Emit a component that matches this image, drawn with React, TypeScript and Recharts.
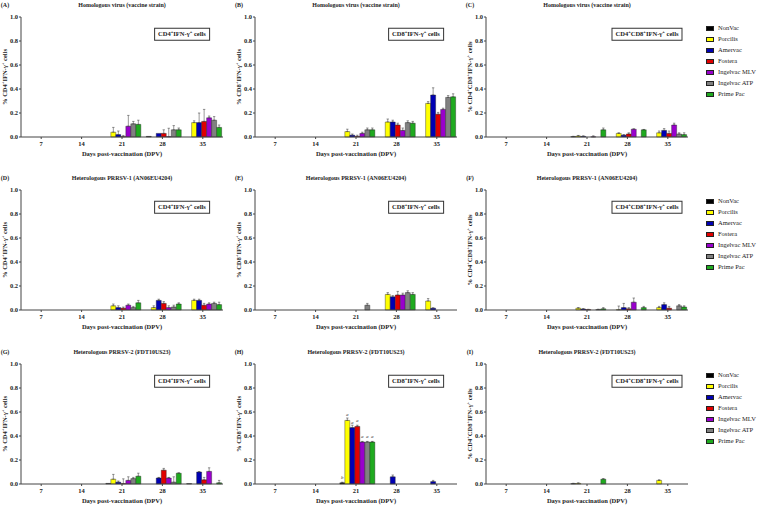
import React from "react";
import { Bar, BarChart, ErrorBar, LabelList, XAxis, YAxis } from "recharts";

// days post-vaccination (x categories)
const DPV = ["7", "14", "21", "28", "35"];
const VACCINES = ["NonVac", "Porcilis", "Amervac", "Fostera", "Ingelvac MLV", "Ingelvac ATP", "Prime Pac"];
const Y_TICKS = [0, 0.2, 0.4, 0.6, 0.8, 1.0];

const ROW_TITLES = [
  "Homologous virus (vaccine strain)",
  "Heterologous PRRSV-1 (AN06EU4204)",
  "Heterologous PRRSV-2 (FDT10US23)"
];
const PANEL_LETTERS = ["A", "B", "C", "D", "E", "F", "G", "H", "I"];
// cell subsets per column
const CELL_MARKERS = [["CD4"], ["CD8"], ["CD4", "CD8"]];

// rows = vaccines (same order as VACCINES), columns = DPV
const A_MEAN = [
  [0, 0, 0, 0.005, 0],
  [0, 0, 0.04, 0, 0.12],
  [0, 0, 0.02, 0.03, 0.12],
  [0, 0, 0.003, 0.03, 0.13],
  [0, 0, 0.09, 0.003, 0.16],
  [0, 0, 0.11, 0.06, 0.14],
  [0, 0, 0.105, 0.06, 0.08]
];
const A_ERR = [
  [0, 0, 0, 0, 0],
  [0, 0, 0.04, 0, 0.015],
  [0, 0, 0.03, 0, 0.08],
  [0, 0, 0.01, 0.03, 0.1],
  [0, 0, 0.09, 0.07, 0.015],
  [0, 0, 0.02, 0.035, 0.03],
  [0, 0, 0.035, 0.015, 0.02]
];

const B_MEAN = [
  [0, 0, 0, 0, 0],
  [0, 0, 0.045, 0.125, 0.28],
  [0, 0, 0.015, 0.125, 0.35],
  [0, 0, 0.005, 0.1, 0.19],
  [0, 0, 0.03, 0.055, 0.23],
  [0, 0, 0.06, 0.12, 0.33],
  [0, 0, 0.06, 0.115, 0.335]
];
const B_ERR = [
  [0, 0, 0, 0, 0],
  [0, 0, 0.02, 0.025, 0.015],
  [0, 0, 0.01, 0.015, 0.06],
  [0, 0, 0.01, 0.015, 0.015],
  [0, 0, 0.01, 0.02, 0.01],
  [0, 0, 0.015, 0.015, 0.015],
  [0, 0, 0.015, 0.015, 0.025]
];

const C_MEAN = [
  [0, 0, 0.003, 0, 0],
  [0, 0, 0.008, 0.03, 0.035],
  [0, 0, 0.005, 0.015, 0.055],
  [0, 0, 0, 0.025, 0.03],
  [0, 0, 0.002, 0.065, 0.1],
  [0, 0, 0, 0, 0.025],
  [0, 0, 0.06, 0.06, 0.02]
];
const C_ERR = [
  [0, 0, 0.003, 0, 0],
  [0, 0, 0.005, 0.005, 0.015],
  [0, 0, 0.005, 0.005, 0.015],
  [0, 0, 0, 0.01, 0.02],
  [0, 0, 0.008, 0.003, 0.015],
  [0, 0, 0, 0, 0.01],
  [0, 0, 0.015, 0.003, 0.015]
];

const D_MEAN = [
  [0, 0, 0, 0, 0],
  [0, 0, 0.035, 0.02, 0.08],
  [0, 0, 0.02, 0.08, 0.08],
  [0, 0, 0.015, 0.055, 0.04],
  [0, 0, 0.04, 0.02, 0.05],
  [0, 0, 0.02, 0.025, 0.055],
  [0, 0, 0.06, 0.05, 0.045]
];
const D_ERR = [
  [0, 0, 0, 0, 0],
  [0, 0, 0.015, 0.015, 0.01],
  [0, 0, 0.015, 0.01, 0.01],
  [0, 0, 0.01, 0.015, 0.015],
  [0, 0, 0.01, 0.015, 0.01],
  [0, 0, 0.01, 0.015, 0.01],
  [0, 0, 0.02, 0.01, 0.02]
];

const E_MEAN = [
  [0, 0, 0, 0, 0],
  [0, 0, 0, 0.13, 0.075],
  [0, 0, 0, 0.11, 0.015],
  [0, 0, 0, 0.125, 0],
  [0, 0, 0, 0.125, 0],
  [0, 0, 0.04, 0.145, 0],
  [0, 0, 0, 0.13, 0]
];
const E_ERR = [
  [0, 0, 0, 0, 0],
  [0, 0, 0, 0.015, 0.02],
  [0, 0, 0, 0.01, 0.003],
  [0, 0, 0, 0.03, 0],
  [0, 0, 0, 0.015, 0],
  [0, 0, 0.015, 0.015, 0],
  [0, 0, 0, 0.015, 0]
];

const F_MEAN = [
  [0, 0, 0, 0, 0],
  [0, 0, 0.015, 0.003, 0.02],
  [0, 0, 0.008, 0.02, 0.045],
  [0, 0, 0.003, 0.01, 0.015],
  [0, 0, 0, 0.065, 0],
  [0, 0, 0.004, 0, 0.035],
  [0, 0, 0.01, 0.02, 0.025]
];
const F_ERR = [
  [0, 0, 0, 0, 0],
  [0, 0, 0.005, 0.03, 0.01],
  [0, 0, 0.003, 0.035, 0.015],
  [0, 0, 0.003, 0.01, 0.015],
  [0, 0, 0, 0.035, 0],
  [0, 0, 0.003, 0, 0.01],
  [0, 0, 0.01, 0.01, 0.01]
];

const G_MEAN = [
  [0, 0, 0.005, 0, 0.003],
  [0, 0, 0.04, 0, 0],
  [0, 0, 0.015, 0.05, 0.1],
  [0, 0, 0.003, 0.115, 0.035],
  [0, 0, 0.03, 0.05, 0.105],
  [0, 0, 0.045, 0.015, 0],
  [0, 0, 0.065, 0.09, 0.01]
];
const G_ERR = [
  [0, 0, 0, 0, 0],
  [0, 0, 0.04, 0, 0],
  [0, 0, 0.01, 0.005, 0.003],
  [0, 0, 0.04, 0.015, 0.02],
  [0, 0, 0.03, 0.005, 0.03],
  [0, 0, 0.01, 0.045, 0],
  [0, 0, 0.025, 0.003, 0.02]
];

const H_MEAN = [
  [0, 0, 0.01, 0, 0],
  [0, 0, 0.53, 0, 0],
  [0, 0, 0.47, 0.06, 0.02],
  [0, 0, 0.48, 0, 0],
  [0, 0, 0.35, 0, 0],
  [0, 0, 0.35, 0, 0],
  [0, 0, 0.35, 0, 0]
];
const H_ERR = [
  [0, 0, 0.005, 0, 0],
  [0, 0, 0.02, 0, 0],
  [0, 0, 0.02, 0.015, 0.01],
  [0, 0, 0.01, 0, 0],
  [0, 0, 0.005, 0, 0],
  [0, 0, 0.005, 0, 0],
  [0, 0, 0.005, 0, 0]
];
// significance letters (panel H only)
const H_LETTERS = [
  ["", "", "b", "", ""],
  ["", "", "a", "", ""],
  ["", "", "a", "", ""],
  ["", "", "a", "", ""],
  ["", "", "a", "", ""],
  ["", "", "a", "", ""],
  ["", "", "a", "", ""]
];

const I_MEAN = [
  [0, 0, 0.003, 0, 0],
  [0, 0, 0.005, 0, 0.03],
  [0, 0, 0, 0, 0],
  [0, 0, 0, 0, 0],
  [0, 0, 0, 0, 0],
  [0, 0, 0, 0, 0],
  [0, 0, 0.04, 0, 0]
];
const I_ERR = [
  [0, 0, 0.003, 0, 0],
  [0, 0, 0.005, 0, 0.005],
  [0, 0, 0, 0, 0],
  [0, 0, 0, 0, 0],
  [0, 0, 0, 0, 0],
  [0, 0, 0, 0, 0],
  [0, 0, 0.005, 0, 0]
];

const PANELS = [
  { mean: A_MEAN, err: A_ERR },
  { mean: B_MEAN, err: B_ERR },
  { mean: C_MEAN, err: C_ERR },
  { mean: D_MEAN, err: D_ERR },
  { mean: E_MEAN, err: E_ERR },
  { mean: F_MEAN, err: F_ERR },
  { mean: G_MEAN, err: G_ERR },
  { mean: H_MEAN, err: H_ERR, letters: H_LETTERS },
  { mean: I_MEAN, err: I_ERR }
];

const COLORS = ["#000000", "#ffff00", "#0000b4", "#e00000", "#9900cc", "#808080", "#1faa1f"];
const FONT = "'Liberation Serif', 'DejaVu Serif', serif";
const INK = "#222";

const ROW_TOP = [0, 173, 347];
const AXIS_X = [21, 255, 486];
const PLOT_W = 202;

function buildRows(mean: number[][], err: number[][], letters?: string[][]) {
  return DPV.map((d, i) => {
    const row: Record<string, any> = { dpv: d };
    VACCINES.forEach((_, j) => {
      row[`v${j}`] = mean[j][i];
      row[`e${j}`] = err[j][i] ? [0, err[j][i]] : null;
      if (letters && letters[j][i]) row[`l${j}`] = letters[j][i];
    });
    return row;
  });
}

function CellName({ markers }: { markers: string[] }) {
  const sup = { fontSize: "0.7em", lineHeight: 0, verticalAlign: "super" } as const;
  return (
    <>
      {markers.map(m => (
        <span key={m}>
          {m}
          <span style={sup}>+</span>
        </span>
      ))}
      IFN-γ<span style={sup}>+</span> cells
    </>
  );
}

function Txt({ x, y, size = 6.5, bold = true, rotate = false, children }: any) {
  return (
    <div
      style={{
        position: "absolute",
        left: x,
        top: y,
        transform: `translate(-50%, -50%)${rotate ? " rotate(-90deg)" : ""}`,
        whiteSpace: "nowrap",
        fontFamily: FONT,
        fontSize: size,
        fontWeight: bold ? "bold" : "normal",
        color: INK,
        lineHeight: 1
      }}
    >
      {children}
    </div>
  );
}

function Panel({ idx }: { idx: number }) {
  const row = Math.floor(idx / 3);
  const col = idx % 3;
  const top = ROW_TOP[row];
  const ax = AXIS_X[col];
  const { mean, err, letters } = PANELS[idx] as any;
  const data = buildRows(mean, err, letters);
  const tickStyle = { fontSize: 6.5, fontFamily: FONT, fontWeight: "bold", fill: INK };

  return (
    <>
      <Txt x={ax - 16} y={top + 5} size={6}>({PANEL_LETTERS[idx]})</Txt>
      <Txt x={ax + PLOT_W / 2} y={top + 5} size={6}>{ROW_TITLES[row]}</Txt>
      <Txt x={ax - 16} y={top + 77} rotate>
        % <CellName markers={CELL_MARKERS[col]} />
      </Txt>
      <div
        style={{
          position: "absolute",
          left: ax + 161,
          top: top + 34,
          transform: "translate(-50%, -50%)",
          border: "1px solid #333",
          padding: "2px 3px",
          background: "#fff",
          whiteSpace: "nowrap",
          fontFamily: FONT,
          fontSize: 6.5,
          fontWeight: "bold",
          color: INK,
          lineHeight: 1
        }}
      >
        <CellName markers={CELL_MARKERS[col]} />
      </div>
      <div style={{ position: "absolute", left: ax - 20, top: top + 12 }}>
        <BarChart
          width={20 + PLOT_W + 4}
          height={141}
          data={data}
          margin={{ top: 5, right: 4, left: 0, bottom: 0 }}
          barCategoryGap="10%"
          barGap={0}
        >
          <XAxis
            dataKey="dpv"
            height={16}
            interval={0}
            tickSize={2}
            tickMargin={2}
            tick={tickStyle}
            axisLine={{ stroke: "#444" }}
            tickLine={{ stroke: "#444" }}
          />
          <YAxis
            width={20}
            domain={[0, 1]}
            ticks={Y_TICKS}
            tickFormatter={(v: number) => v.toFixed(1)}
            tickSize={2}
            tickMargin={1}
            tick={tickStyle}
            axisLine={{ stroke: "#444" }}
            tickLine={{ stroke: "#444" }}
          />
          {VACCINES.map((v, j) => (
            <Bar
              key={v}
              dataKey={`v${j}`}
              name={v}
              fill={COLORS[j]}
              stroke="#222"
              strokeWidth={0.4}
              isAnimationActive={false}
            >
              <ErrorBar dataKey={`e${j}`} width={1.2} stroke="#333" strokeWidth={0.5} direction="y" />
              {letters && (
                <LabelList
                  dataKey={`l${j}`}
                  position="top"
                  offset={4}
                  style={{ fontSize: 5, fontStyle: "italic", fontFamily: FONT, fill: "#333" }}
                />
              )}
            </Bar>
          ))}
        </BarChart>
      </div>
      <Txt x={ax + PLOT_W / 2} y={top + 154}>Days post-vaccination (DPV)</Txt>
    </>
  );
}

function LegendBlock({ top }: { top: number }) {
  return (
    <>
      {VACCINES.map((v, i) => (
        <div key={v}>
          <div
            style={{
              position: "absolute",
              left: 706,
              top: top + 28 + i * 11 - 2,
              width: 6,
              height: 3,
              background: COLORS[i],
              border: "0.6px solid #222"
            }}
          />
          <div
            style={{
              position: "absolute",
              left: 718,
              top: top + 28 + i * 11,
              transform: "translateY(-50%)",
              fontFamily: FONT,
              fontSize: 6.5,
              color: INK,
              whiteSpace: "nowrap",
              lineHeight: 1
            }}
          >
            {v}
          </div>
        </div>
      ))}
    </>
  );
}

export default function App() {
  return (
    <div style={{ position: "absolute", left: 0, top: 0, width: 758, height: 506, background: "#fff", overflow: "hidden" }}>
      {PANELS.map((_, i) => (
        <Panel key={i} idx={i} />
      ))}
      {ROW_TOP.map(t => (
        <LegendBlock key={t} top={t} />
      ))}
    </div>
  );
}
